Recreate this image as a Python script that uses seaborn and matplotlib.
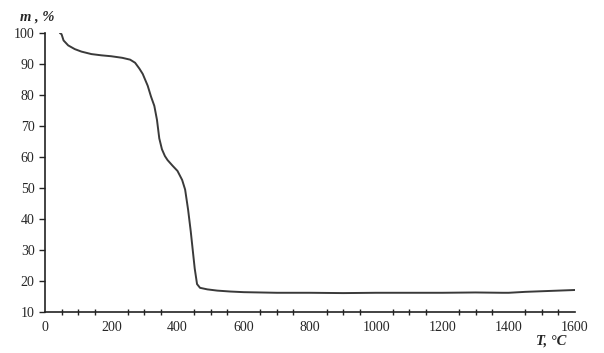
import matplotlib
matplotlib.use("Agg")
import matplotlib.pyplot as plt
import seaborn as sns
import pandas as pd
from matplotlib.ticker import MultipleLocator

temperature = [45, 50, 56, 70, 90, 110, 140, 170, 200, 233, 257, 272, 285, 295, 310, 320, 330, 338, 345, 353,
               362, 370, 385, 400, 414, 423, 432, 440, 446, 452, 459, 468, 490, 520, 560, 600, 700, 800,
               900, 1000, 1100, 1200, 1300, 1380, 1400, 1450, 1500, 1550, 1600]
mass = [100, 99.6, 97.6, 96.0, 94.8, 94.0, 93.2, 92.8, 92.5, 92.0, 91.4, 90.4, 88.5, 86.8, 83.0, 79.5, 76.5, 72.0,
        66.0, 62.5, 60.3, 59.0, 57.2, 55.5, 52.6, 49.5, 43.0, 36.0, 30.0, 24.0, 19.0, 17.8, 17.3, 16.9, 16.6, 16.4,
        16.2, 16.2, 16.1, 16.2, 16.2, 16.2, 16.3, 16.2, 16.2, 16.5, 16.7, 16.9, 17.1]

sns.set_style("white")
plt.rcParams['font.family'] = ['Liberation Serif', 'DejaVu Serif']

fig = plt.figure(figsize=(6.04, 3.53), dpi=100)
ax = fig.add_axes([45/604, 41/353, 530/604, 279/353])

df = pd.DataFrame({"T": temperature, "m": mass})
sns.lineplot(data=df, x="T", y="m", ax=ax, color="#3a3a3a", linewidth=1.4, estimator=None)

ax.set_xlim(0, 1600)
ax.set_ylim(10, 100)
ax.xaxis.set_major_locator(MultipleLocator(200))
ax.xaxis.set_minor_locator(MultipleLocator(50))
ax.yaxis.set_major_locator(MultipleLocator(10))
ax.tick_params(axis='x', which='major', direction='inout', length=7, width=1, labelsize=10, pad=3, color='#222')
ax.tick_params(axis='x', which='minor', direction='inout', length=4, width=1, color='#222', bottom=True)
ax.tick_params(axis='y', which='major', direction='out', length=4, width=1, labelsize=10, left=True, color='#222')
for s in ['top', 'right']:
    ax.spines[s].set_visible(False)
for s in ['left', 'bottom']:
    ax.spines[s].set_color('#222')
    ax.spines[s].set_linewidth(1.2)
ax.set_xlabel("")
ax.set_ylabel("")
fig.text(20/604, 1 - 17/353, "m , %", fontsize=10.5, fontweight='bold', fontstyle='italic', va='center', ha='left')
fig.text(566/604, 1 - 341/353, "T, °C", fontsize=10.5, fontweight='bold', fontstyle='italic', va='center', ha='right')

fig.savefig("out.png", dpi=100)
